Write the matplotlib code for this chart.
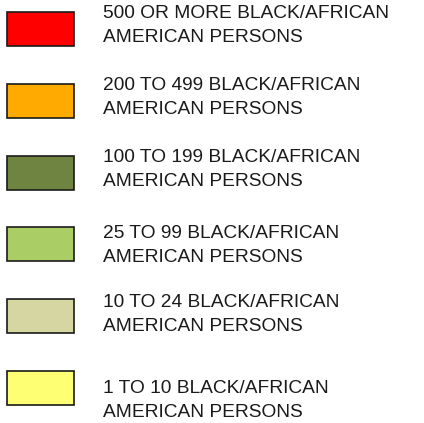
"""Legend swatches: Black/African American persons by count class."""

import matplotlib
matplotlib.use("Agg")
import matplotlib.pyplot as plt
import numpy as np

# --- Data ---
CLASS_LABELS = [
    "500 OR MORE BLACK/AFRICAN\nAMERICAN PERSONS",
    "200 TO 499 BLACK/AFRICAN\nAMERICAN PERSONS",
    "100 TO 199 BLACK/AFRICAN\nAMERICAN PERSONS",
    "25 TO 99 BLACK/AFRICAN\nAMERICAN PERSONS",
    "10 TO 24 BLACK/AFRICAN\nAMERICAN PERSONS",
    "1 TO 10 BLACK/AFRICAN\nAMERICAN PERSONS",
]
CLASS_COLORS = ["#FF0000", "#FFAA00", "#6F8441", "#AACD66", "#D6D6A3", "#FFFF73"]

# --- Layout (pixels) ---
W, H = 424, 423
BOX_X, BOX_W, BOX_H = 7, 67, 34
BOX_TOP0, BOX_STEP = 12, 71.8
TEXT_X = 103
TEXT_BASE = [18, 90, 162, 238, 307, 393]   # first-line baselines
LINE_GAP = 24

plt.rcParams.update({
    "font.family": ["Liberation Sans", "DejaVu Sans"],
})

fig = plt.figure(figsize=(W / 100, H / 100), dpi=100)
ax = fig.add_axes([0, 0, 1, 1])
ax.set_xlim(0, W)
ax.set_ylim(H, 0)
ax.axis("off")

centers = BOX_TOP0 + np.arange(len(CLASS_LABELS)) * BOX_STEP + BOX_H / 2
ax.barh(centers, BOX_W, height=BOX_H, left=BOX_X, color=CLASS_COLORS,
        edgecolor="#1a1a1a", linewidth=1.2, zorder=2)

for i, label in enumerate(CLASS_LABELS):
    for j, line in enumerate(label.split("\n")):
        ax.text(TEXT_X, TEXT_BASE[i] + j * LINE_GAP, line, fontsize=13.8,
                color="#1a1a1a", va="baseline", ha="left")

fig.savefig("out.png", dpi=100, facecolor="white")
